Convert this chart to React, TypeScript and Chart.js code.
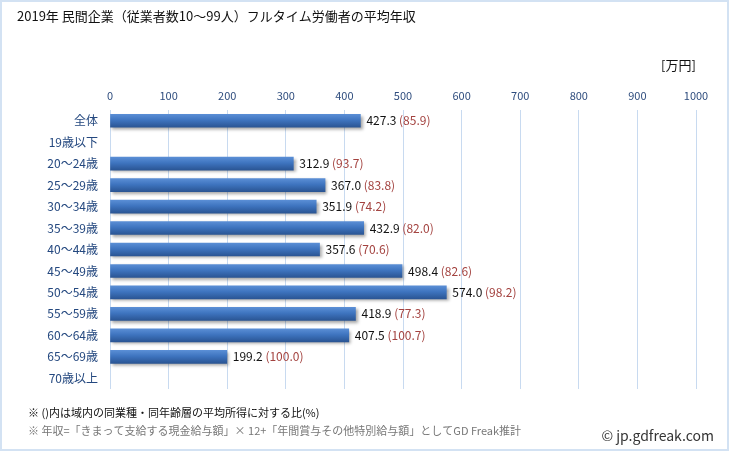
import React, { useEffect, useRef } from "react";
import { Chart, registerables } from "chart.js";

Chart.register(...registerables);

const titleText = "2019年 民間企業（従業者数10〜99人）フルタイム労働者の平均年収";
const unitText = "[万円]";
const categories = [
  "全体", "19歳以下", "20〜24歳", "25〜29歳", "30〜34歳", "35〜39歳", "40〜44歳",
  "45〜49歳", "50〜54歳", "55〜59歳", "60〜64歳", "65〜69歳", "70歳以上",
];
const values: (number | null)[] = [
  427.3, null, 312.9, 367.0, 351.9, 432.9, 357.6, 498.4, 574.0, 418.9, 407.5, 199.2, null,
];
const ratios: (number | null)[] = [
  85.9, null, 93.7, 83.8, 74.2, 82.0, 70.6, 82.6, 98.2, 77.3, 100.7, 100.0, null,
];
const xMin = 0;
const xMax = 1000;
const xStep = 100;
const note1 = "※ ()内は域内の同業種・同年齢層の平均所得に対する比(%)";
const note2 = "※ 年収=「きまって支給する現金給与額」× 12+「年間賞与その他特別給与額」としてGD Freak推計";
const credit = "© jp.gdfreak.com";

const FONT = '"Noto Sans CJK JP", "Noto Sans", sans-serif';

const decorPlugin = {
  id: "decor",
  beforeDraw(chart: any) {
    const ctx = chart.ctx;
    ctx.save();
    ctx.fillStyle = "#ffffff";
    ctx.fillRect(0, 0, chart.width, chart.height);
    ctx.restore();
  },
  beforeDatasetsDraw(chart: any) {
    const ctx = chart.ctx;
    ctx.save();
    ctx.shadowColor = "rgba(0,0,0,0.35)";
    ctx.shadowOffsetX = 2;
    ctx.shadowOffsetY = 2;
    ctx.shadowBlur = 3;
  },
  afterDatasetsDraw(chart: any) {
    const ctx = chart.ctx;
    ctx.restore();
    ctx.save();
    const meta = chart.getDatasetMeta(0);
    ctx.font = `12px ${FONT}`;
    ctx.textBaseline = "middle";
    ctx.textAlign = "left";
    values.forEach((v, i) => {
      if (v == null) return;
      const el = meta.data[i];
      const x = el.x + 6;
      const y = el.y;
      const a = v.toFixed(1);
      ctx.fillStyle = "#111111";
      ctx.fillText(a, x, y);
      const w = ctx.measureText(a + " ").width;
      const r = ratios[i];
      if (r != null) {
        ctx.fillStyle = "#a3423f";
        ctx.fillText(`(${r.toFixed(1)})`, x + w, y);
      }
    });
    ctx.restore();
  },
  afterDraw(chart: any) {
    const ctx = chart.ctx;
    ctx.save();
    ctx.textBaseline = "middle";
    ctx.textAlign = "left";
    ctx.fillStyle = "#111111";
    ctx.font = `13px ${FONT}`;
    ctx.fillText(titleText, 17, 16);
    ctx.font = `13px ${FONT}`;
    ctx.fillText(unitText, 661, 65);
    ctx.font = `11px ${FONT}`;
    ctx.fillStyle = "#111111";
    ctx.fillText(note1, 28, 413);
    ctx.fillStyle = "#777777";
    ctx.fillText(note2, 28, 431);
    ctx.font = `14px ${FONT}`;
    ctx.fillStyle = "#333333";
    ctx.textAlign = "right";
    ctx.fillText(credit, 714, 436);
    ctx.strokeStyle = "#d3e2f3";
    ctx.lineWidth = 2;
    ctx.strokeRect(1, 1, chart.width - 2, chart.height - 2);
    ctx.restore();
  },
};

export default function App() {
  const ref = useRef<HTMLCanvasElement | null>(null);
  useEffect(() => {
    if (!ref.current) return;
    const chart = new Chart(ref.current, {
      type: "bar",
      data: {
        labels: categories,
        datasets: [
          {
            data: values as any,
            barThickness: 13,
            borderWidth: 0,
            backgroundColor: (c: any) => {
              const ch = c.chart;
              const ys = ch.scales && ch.scales.y;
              if (!ys || c.dataIndex == null) return "#3b6fb6";
              const py = ys.getPixelForValue(c.dataIndex);
              if (!isFinite(py)) return "#3b6fb6";
              const g = ch.ctx.createLinearGradient(0, py - 6.5, 0, py + 6.5);
              g.addColorStop(0, "#5a8ed5");
              g.addColorStop(0.45, "#3e74bf");
              g.addColorStop(1, "#2a5594");
              return g;
            },
          },
        ],
      },
      options: {
        indexAxis: "y",
        responsive: false,
        animation: false,
        layout: { padding: { left: 0, right: 33, top: 0, bottom: 62 } },
        plugins: { legend: { display: false }, tooltip: { enabled: false }, title: { display: false } },
        scales: {
          x: {
            position: "top",
            min: xMin,
            max: xMax,
            ticks: {
              stepSize: xStep,
              color: "#2f4d7e",
              font: { family: FONT, size: 11 },
              padding: 8,
              callback: (v: any) => String(v),
            },
            grid: { color: "#c8daf0", drawTicks: false, lineWidth: 1 },
            border: { display: false },
            afterFit: (s: any) => { s.height = 110; },
          },
          y: {
            ticks: { color: "#24487f", font: { family: FONT, size: 12 }, padding: 12 },
            grid: { display: false, drawTicks: false },
            border: { display: false },
            afterFit: (s: any) => { s.width = 110; },
          },
        },
      } as any,
      plugins: [decorPlugin],
    });
    return () => chart.destroy();
  }, []);
  return (
    <div style={{ position: "absolute", left: 0, top: 0, width: 729, height: 451 }}>
      <canvas ref={ref} width={729} height={451} style={{ display: "block" }} />
    </div>
  );
}
